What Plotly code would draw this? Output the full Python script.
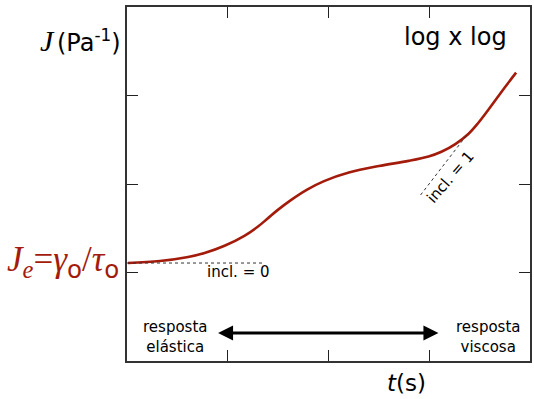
import plotly.graph_objects as go

# curve J(t), log-log axes (in decades from left/bottom of frame)
log_t = [0.01, 0.326, 0.593, 0.770, 0.968, 1.165, 1.294, 1.393, 1.491, 1.630, 1.788, 1.956, 2.202, 2.499,
         2.795, 2.993, 3.121, 3.259, 3.388, 3.486, 3.585, 3.753, 3.862]
log_J = [1.107, 1.129, 1.172, 1.220, 1.302, 1.415, 1.514, 1.607, 1.702, 1.821, 1.937, 2.033, 2.129, 2.203,
         2.261, 2.311, 2.364, 2.451, 2.565, 2.689, 2.836, 3.096, 3.258]

slope0_x = [0.0, 1.35]
slope0_y = [1.107, 1.107]
slope1_x = [2.914, 3.388]
slope1_y = [1.876, 2.576]

tick_vals = [0, 1, 2, 3]
RED = "#a31b0b"
FONT = "DejaVu Sans"
SERIF = "Liberation Serif"

fig = go.Figure()
fig.add_trace(go.Scatter(x=log_t, y=log_J, mode="lines",
                         line=dict(color=RED, width=2.6, shape="spline", smoothing=1),
                         hoverinfo="skip"))
fig.add_trace(go.Scatter(x=slope0_x, y=slope0_y, mode="lines", line=dict(color="#333", width=1, dash="3px,3px"),
                         hoverinfo="skip"))
fig.add_trace(go.Scatter(x=slope1_x, y=slope1_y, mode="lines", line=dict(color="#333", width=1, dash="3px,3px"),
                         hoverinfo="skip"))

ax_common = dict(range=[0, 4], tickvals=tick_vals, ticks="inside", ticklen=11, tickwidth=1.3, tickcolor="#222",
                 showticklabels=False, showgrid=False, zeroline=False, showline=True, linecolor="#333",
                 linewidth=2, mirror="ticks", fixedrange=True)

fig.update_layout(
    width=534, height=399,
    margin=dict(l=127, r=2, t=7, b=38),
    plot_bgcolor="white", paper_bgcolor="white",
    showlegend=False,
    xaxis=ax_common, yaxis=ax_common,
    font=dict(family=FONT, color="black"),
)

ann = []
ann.append(dict(xref="paper", yref="paper", x=-0.173, y=0.905, xanchor="right", yanchor="middle",
                text="<i>J</i>", showarrow=False, font=dict(size=30, family=SERIF)))
ann.append(dict(xref="paper", yref="paper", x=-0.178, y=0.905, xanchor="left", yanchor="middle",
                text="(Pa<sup>-1</sup>)", showarrow=False, font=dict(size=24, family=FONT)))
ann.append(dict(xref="paper", yref="paper", x=0.815, y=0.915, xanchor="center", yanchor="middle",
                text="log x log", showarrow=False, font=dict(size=24, family=FONT)))
ann.append(dict(xref="paper", yref="paper", x=-0.014, y=0.28, xanchor="right", yanchor="middle",
                text=f"<i>J</i><sub><i>e</i></sub>=<i>γ</i><sub><span style='font-family:{FONT}'>o</span></sub>/<i>τ</i><sub><span style='font-family:{FONT}'>o</span></sub>",
                showarrow=False, font=dict(size=35, family=SERIF, color=RED)))
ann.append(dict(xref="paper", yref="paper", x=0.693, y=-0.062, xanchor="center", yanchor="middle",
                text="<i>t</i>(s)", showarrow=False, font=dict(size=23, family=FONT)))
ann.append(dict(x=0.474, y=0.27, text="resposta<br>elástica", showarrow=False, align="center",
                font=dict(size=15, family=FONT)))
ann.append(dict(x=3.585, y=0.27, text="resposta<br>viscosa", showarrow=False, align="center",
                font=dict(size=15, family=FONT)))
ann.append(dict(x=1.106, y=1.006, text="incl. = 0", showarrow=False, font=dict(size=15, family=FONT)))
ann.append(dict(x=3.21, y=2.08, text="incl. = 1", showarrow=False, textangle=-49, font=dict(size=15, family=FONT)))
# double-headed arrow
ann.append(dict(x=3.091, y=0.316, ax=0.889, ay=0.316, xref="x", yref="y", axref="x", ayref="y",
                text="", showarrow=True, arrowhead=2, startarrowhead=2, arrowside="end+start",
                arrowwidth=3, arrowsize=1, startarrowsize=1, arrowcolor="black"))
fig.update_layout(annotations=ann)

fig.write_html("out.html")
